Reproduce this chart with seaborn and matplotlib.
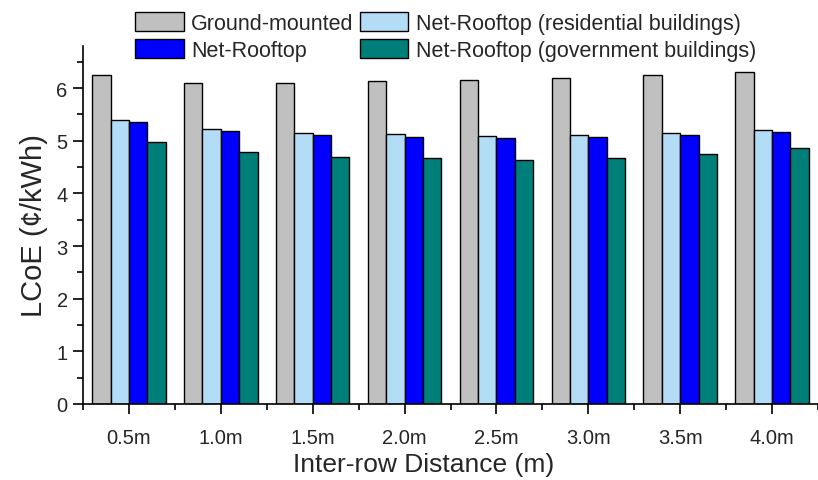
import pandas as pd
import matplotlib.pyplot as plt
import seaborn as sns

sns.set_style("ticks")
plt.rcParams["font.family"] = ["Liberation Sans", "DejaVu Sans"]

# ── data ────────────────────────────────────────────────────
distances = ["0.5m", "1.0m", "1.5m", "2.0m", "2.5m", "3.0m", "3.5m", "4.0m"]
ground = [6.25, 6.10, 6.10, 6.13, 6.16, 6.20, 6.25, 6.30]
residential = [5.40, 5.22, 5.14, 5.12, 5.09, 5.11, 5.15, 5.21]
net_rooftop = [5.35, 5.19, 5.11, 5.08, 5.06, 5.08, 5.11, 5.17]
government = [4.98, 4.79, 4.69, 4.68, 4.64, 4.68, 4.75, 4.86]

series = {
    "Ground-mounted": ground,
    "Net-Rooftop (residential buildings)": residential,
    "Net-Rooftop": net_rooftop,
    "Net-Rooftop (government buildings)": government,
}
palette = ["#C0C0C0", "#B3DDF6", "#0000FF", "#007F7A"]

df = pd.DataFrame(
    [(d, name, v) for name, vals in series.items() for d, v in zip(distances, vals)],
    columns=["distance", "type", "lcoe"],
)

fig = plt.figure(figsize=(8.18, 4.81), dpi=100)
ax = fig.add_axes([83 / 818, 1 - 405 / 481, 1 - 83 / 818, (405 - 47) / 481])

sns.barplot(data=df, x="distance", y="lcoe", hue="type", order=distances,
            hue_order=list(series), palette=palette, saturation=1,
            edgecolor="black", linewidth=1, width=0.8, ax=ax)

ax.set_xlim(-0.5, 7.5)
ax.set_ylim(0, 6.8)
ax.set_yticks(range(7))
ax.set_yticks([i + 0.5 for i in range(7)], minor=True)
ax.set_xticks([i + 0.5 for i in range(-1, 8)], minor=True)
ax.tick_params(axis="both", which="major", length=7, width=1.2,
               labelsize=14.5, color="black", pad=4)
ax.tick_params(axis="both", which="minor", length=4, width=1.2, color="black")
ax.tick_params(axis="x", pad=10)
sns.despine(ax=ax)
for s in ("left", "bottom"):
    ax.spines[s].set_linewidth(1.2)
    ax.spines[s].set_color("black")

ax.set_xlabel("Inter-row Distance (m)", fontsize=19)
ax.xaxis.set_label_coords(0.464, -0.135)
ax.set_ylabel("LCoE (¢/kWh)", fontsize=21, labelpad=6)

handles, labels = ax.get_legend_handles_labels()
idx = [0, 2, 1, 3]
ax.legend([handles[i] for i in idx], [labels[i] for i in idx], ncol=2,
          loc="upper left", bbox_to_anchor=(120 / 818, 1 + 2 / 481),
          bbox_transform=fig.transFigure, frameon=False, fontsize=15.5,
          handlelength=2.25, handleheight=0.95, handletextpad=0.35,
          columnspacing=0.3, labelspacing=0.25, borderpad=0.2)

fig.savefig("out.png", dpi=100)
